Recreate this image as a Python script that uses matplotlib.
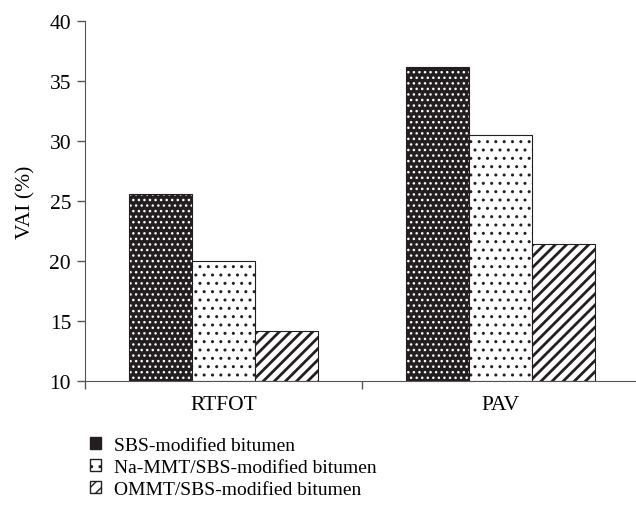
import matplotlib
matplotlib.use("Agg")
import matplotlib.pyplot as plt
import numpy as np
from matplotlib.patches import Patch

categories = ["RTFOT", "PAV"]
series_names = ["SBS-modified bitumen", "Na-MMT/SBS-modified bitumen", "OMMT/SBS-modified bitumen"]
sbs = [25.6, 36.2]
na_mmt = [20.0, 30.5]
ommt = [14.2, 21.4]
yticks = [10, 15, 20, 25, 30, 35, 40]

plt.rcParams['font.family'] = ['Liberation Serif', 'DejaVu Serif']
plt.rcParams['hatch.linewidth'] = 1.0

fig = plt.figure(figsize=(6.36, 5.10), dpi=100)
ax = fig.add_axes([85/636, 1-382/510, (636-85)/636, 360/510])

dark = '#231f20'
x = np.arange(len(categories))
w = 0.227
offs = [-w, 0, w]

# SBS: dark with white dots
ax.bar(x + offs[0], np.array(sbs) - 10, w, bottom=10, color=dark, edgecolor='white', hatch='...', linewidth=0)
ax.bar(x + offs[0], np.array(sbs) - 10, w, bottom=10, fill=False, edgecolor=dark, linewidth=0.8)
# Na-MMT: white with black dots
ax.bar(x + offs[1], np.array(na_mmt) - 10, w, bottom=10, color='white', edgecolor=dark, hatch='..', linewidth=0.8)
# OMMT: diagonal hatch
with plt.rc_context({'hatch.linewidth': 2.0}):
    ax.bar(x + offs[2], np.array(ommt) - 10, w, bottom=10, color='white', edgecolor=dark, hatch='///', linewidth=0.8)

ax.set_ylim(10, 40)
ax.set_xlim(-0.5, -0.5 + (636-85)/277)
ax.set_yticks(yticks)
ax.set_xticks([-0.5, 0.5])
ax.set_xticklabels([])
ax.set_xticks(x, minor=True)
ax.set_xticklabels(categories, minor=True)
ax.tick_params(axis='x', which='minor', length=0, labelsize=15.5, pad=10)
ax.tick_params(axis='x', which='major', length=6, width=1, color='#555555', direction='out')
ax.tick_params(axis='y', length=6, width=1, color='#555555', labelsize=15.5, direction='out', pad=4)
ax.spines['top'].set_visible(False)
ax.spines['right'].set_visible(False)
ax.spines['left'].set_color('#555555')
ax.spines['bottom'].set_color('#555555')
ax.set_ylabel("VAI (%)", fontsize=15.5, labelpad=10)

handles = [
    Patch(facecolor=dark, edgecolor=dark, hatch=None),
    Patch(facecolor='white', edgecolor=dark, hatch='..'),
    Patch(facecolor='white', edgecolor=dark, hatch='///'),
]
fig.legend(handles, series_names, loc='upper left', bbox_to_anchor=(90/636, 1-438/510),
           frameon=False, fontsize=14, handlelength=0.55, handleheight=0.55,
           handletextpad=0.7, labelspacing=0.25, borderaxespad=0, borderpad=0)

fig.savefig("out.png", dpi=100)
